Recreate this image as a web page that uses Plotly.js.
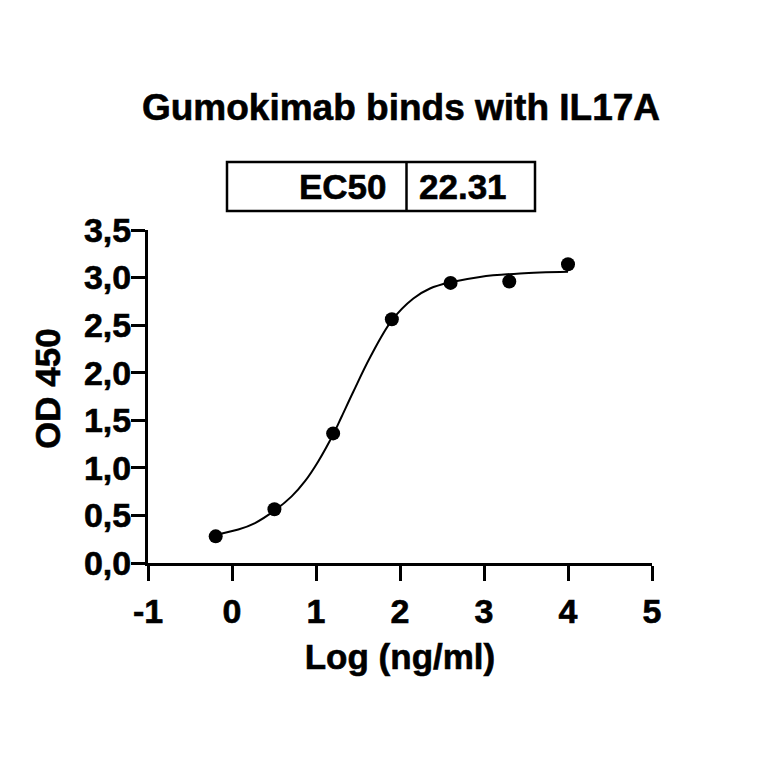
<!DOCTYPE html>
<html>
<head>
<meta charset="utf-8">
<script src="https://cdn.plot.ly/plotly-3.0.1.min.js"></script>
<style>
html,body{margin:0;padding:0;background:#fff;}
#chart{width:764px;height:764px;}
#chart svg text{stroke:#000;stroke-width:0.6px;}
</style>
</head>
<body>
<div id="chart"></div>
<script>
// Measured points: log10 concentration (ng/ml) vs OD450
const logConc = [-0.194, 0.505, 1.204, 1.903, 2.602, 3.301, 4.0];
const od450 = [0.28, 0.565, 1.362, 2.562, 2.944, 2.958, 3.14];

// Fitted curve
const curveX = [-0.194, 0.075, 0.274, 0.505, 0.71, 0.869, 1.028, 1.204, 1.306, 1.444, 1.643, 1.903, 2.159, 2.357, 2.602, 2.952, 3.429, 4.0];
const curveY = [0.298, 0.352, 0.42, 0.55, 0.70, 0.86, 1.07, 1.35, 1.54, 1.80, 2.16, 2.55, 2.78, 2.885, 2.95, 3.007, 3.043, 3.06];

const xTickVals = [-1, 0, 1, 2, 3, 4, 5];
const xTickText = ['-1', '0', '1', '2', '3', '4', '5'];
const yTickVals = [0, 0.5, 1, 1.5, 2, 2.5, 3, 3.5];
const yTickText = ['0,0', '0,5', '1,0', '1,5', '2,0', '2,5', '3,0', '3,5'];

const ec50Label = 'EC50';
const ec50Value = '22.31';

const chartTitle = 'Gumokimab binds with IL17A';
const xTitle = 'Log (ng/ml)';
const yTitle = 'OD 450';

const FONT = 'Liberation Sans, Arial, Helvetica, sans-serif';
const bold = (size) => ({family: FONT, size: size, color: '#000', weight: 'bold'});

const traces = [
  {
    x: curveX, y: curveY, type: 'scatter', mode: 'lines',
    line: {color: '#000', width: 2, shape: 'spline', smoothing: 1},
    hoverinfo: 'skip', showlegend: false
  },
  {
    x: logConc, y: od450, type: 'scatter', mode: 'markers',
    marker: {color: '#000', size: 14},
    showlegend: false
  }
];

const layout = {
  width: 764, height: 764,
  paper_bgcolor: '#fff', plot_bgcolor: '#fff',
  margin: {l: 148, r: 112, t: 230, b: 201},
  showlegend: false,
  title: {
    text: chartTitle, font: bold(37),
    x: (401 - 148) / 504, xref: 'paper', xanchor: 'center',
    y: 1 - 107 / 764, yref: 'container', yanchor: 'middle'
  },
  xaxis: {
    range: [-1, 5], showgrid: false, zeroline: false,
    showline: true, linecolor: '#000', linewidth: 3,
    ticks: 'outside', ticklen: 15, tickwidth: 3, tickcolor: '#000',
    tickvals: xTickVals, ticktext: xTickText,
    tickfont: bold(34), ticklabelstandoff: 1,
    title: {text: xTitle, font: bold(35), standoff: 16},
    fixedrange: true
  },
  yaxis: {
    range: [0, 3.5], showgrid: false, zeroline: false,
    showline: true, linecolor: '#000', linewidth: 3,
    ticks: 'outside', ticklen: 14, tickwidth: 3, tickcolor: '#000',
    tickvals: yTickVals, ticktext: yTickText,
    tickfont: bold(34), ticklabelstandoff: -7,
    fixedrange: true
  },
  shapes: [
    {type: 'rect', xref: 'paper', yref: 'paper',
     x0: (227 - 148) / 504, x1: (535 - 148) / 504,
     y0: (563 - 211) / 333, y1: (563 - 162) / 333,
     line: {color: '#000', width: 2.5}, fillcolor: 'rgba(0,0,0,0)'},
    {type: 'line', xref: 'paper', yref: 'paper',
     x0: (406.5 - 148) / 504, x1: (406.5 - 148) / 504,
     y0: (563 - 211) / 333, y1: (563 - 162) / 333,
     line: {color: '#000', width: 2.5}}
  ],
  annotations: [
    {text: ec50Label, xref: 'paper', yref: 'paper',
     x: (389 - 148) / 504, xanchor: 'right',
     y: (563 - 186.5) / 333, yanchor: 'middle',
     showarrow: false, font: bold(35)},
    {text: ec50Value, xref: 'paper', yref: 'paper',
     x: (417 - 148) / 504, xanchor: 'left',
     y: (563 - 186.5) / 333, yanchor: 'middle',
     showarrow: false, font: bold(35)},
    {text: yTitle, xref: 'paper', yref: 'paper',
     x: (47 - 148) / 504, xanchor: 'center',
     y: (563 - 389) / 333, yanchor: 'middle',
     textangle: -90, showarrow: false, font: bold(35)}
  ]
};

Plotly.newPlot('chart', traces, layout, {displayModeBar: false, staticPlot: true});
</script>
</body>
</html>
